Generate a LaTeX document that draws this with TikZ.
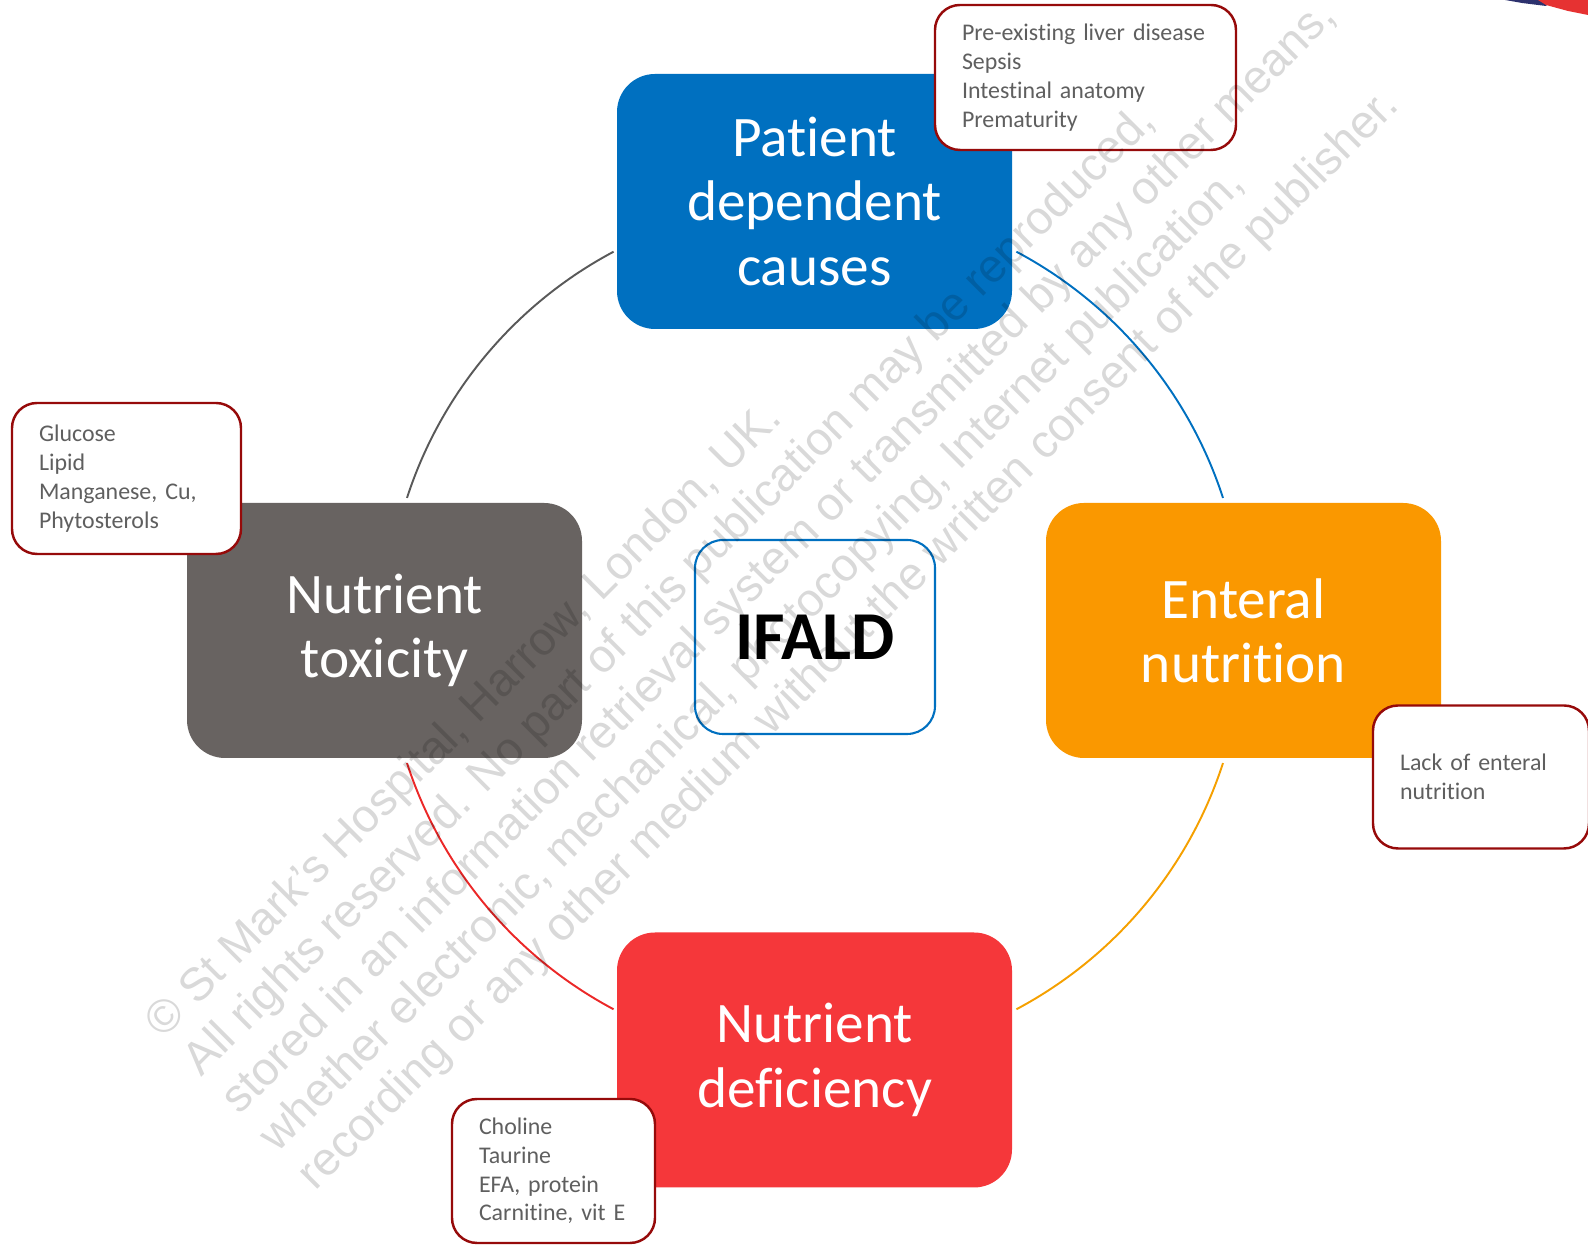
\documentclass[tikz,border=0pt]{standalone}
\usepackage{fontspec}
\setmainfont{Carlito}[Ligatures={NoCommon}]
\newfontfamily\wmfont{Liberation Sans}
\usepackage{tikz}

\definecolor{patBlue}{RGB}{0,112,192}
\definecolor{toxGray}{RGB}{104,99,97}
\definecolor{entOrange}{RGB}{250,152,0}
\definecolor{defRed}{RGB}{245,55,58}
\definecolor{noteRed}{RGB}{150,10,10}
\definecolor{noteText}{RGB}{95,95,95}
\definecolor{arcGray}{RGB}{89,89,89}
\definecolor{arcOrange}{RGB}{245,160,0}
\definecolor{arcRed}{RGB}{235,40,40}
\definecolor{logoNavy}{RGB}{45,50,110}
\definecolor{logoRed}{RGB}{230,50,50}

\begin{document}
\begin{tikzpicture}[x=0.1mm,y=0.1mm,
    mainbox/.style={rounded corners=3.8mm, minimum width=39.5mm, minimum height=25.5mm,
        inner sep=0pt, align=center, text=white, font=\fontsize{16.3pt}{18.3pt}\selectfont},
    centrebox/.style={draw=patBlue, line width=0.6pt, fill=white, rounded corners=2.8mm,
        minimum width=24mm, minimum height=19.4mm, font=\fontsize{19.5pt}{22pt}\selectfont\bfseries},
    notebox/.style={draw=noteRed, line width=0.7pt, fill=white, rounded corners=2.5mm,
        align=left, inner xsep=2.7mm, inner ysep=0pt, text=noteText,
        font=\fontsize{6.8pt}{8.2pt}\selectfont},
    linkarc/.style={line width=0.55pt}]
	\useasboundingbox (0,0) rectangle (1588,1246);

	% ring behind the boxes
	\coordinate (ctr) at (815,615.5);
	\coordinate (pt1) at ([shift={(62:429)}]ctr);
	\coordinate (en1) at ([shift={(298:429)}]ctr);
	\coordinate (de1) at ([shift={(198:429)}]ctr);
	\coordinate (to1) at ([shift={(118:429)}]ctr);
	\draw[linkarc, patBlue]   (pt1) arc[start angle=62,  end angle=18,  radius=429];
	\draw[linkarc, arcOrange] (en1) arc[start angle=298, end angle=342, radius=429];
	\draw[linkarc, arcRed]    (de1) arc[start angle=198, end angle=242, radius=429];
	\draw[linkarc, arcGray]   (to1) arc[start angle=118, end angle=162, radius=429];

	% the four causes
	\node[mainbox, fill=patBlue]   (patient)    at (814.5,1044.5) {Patient\\dependent\\causes};
	\node[mainbox, fill=toxGray]   (toxicity)   at (384.5,615.5)  {Nutrient\\toxicity};
	\node[mainbox, fill=entOrange] (enteral)    at (1243.5,615.5) {Enteral\\nutrition};
	\node[mainbox, fill=defRed]    (deficiency) at (814.5,186)    {Nutrient\\deficiency};

	\node[centrebox] (ifald) at (815,609) {IFALD};

	% notes
	\node[notebox, text width=24.7mm, minimum height=14.5mm] (patnote) at (1085.5,1168.5)
		{Pre-existing liver disease\\Sepsis\\Intestinal anatomy\\Prematurity};
	\node[notebox, text width=17.5mm, minimum height=15.1mm] (toxnote) at (126.5,767.5)
		{Glucose\\Lipid\\Manganese, Cu,\\Phytosterols};
	\node[notebox, text width=16.2mm, minimum height=14.3mm] (entnote) at (1481,469)
		{Lack of enteral\\nutrition};
	\node[notebox, text width=14.9mm, minimum height=14.4mm] (defnote) at (553.5,75)
		{Choline\\Taurine\\EFA, protein\\Carnitine, vit E};

	% corner of a logo
	\fill[logoNavy] (1505,1246) -- (1552,1246) -- (1546,1240) -- (1522,1243) -- cycle;
	\fill[logoRed] (1538,1246) -- (1588,1246) -- (1588,1231) -- (1568,1235) -- (1546,1241) -- cycle;

	% watermark
	\node[rotate=45, anchor=north west, inner sep=0pt, align=left, opacity=0.15,
		font=\wmfont\fontsize{13.2pt}{15.3pt}\selectfont] (wm) at (139,230)
		{© St Mark’s Hospital, Harrow, London, UK.\\
		 All rights reserved. No part of this publication may be reproduced,\\
		 stored in an information retrieval system or transmitted by any other means,\\
		 whether electronic, mechanical, photocopying, Internet publication,\\
		 recording or any other medium without the written consent of the publisher.};
\end{tikzpicture}
\end{document}
